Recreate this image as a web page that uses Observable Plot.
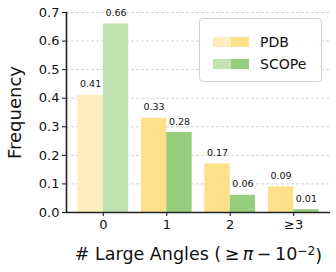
<!DOCTYPE html>
<html>
<head>
<meta charset="utf-8">
<script src="https://cdn.jsdelivr.net/npm/d3@7"></script>
<script src="https://cdn.jsdelivr.net/npm/@observablehq/plot@0.6"></script>
<style>
  html, body { margin: 0; padding: 0; background: #fff; }
  #wrap { position: relative; width: 336px; height: 272px; font-family: "DejaVu Sans", sans-serif; }
  #wrap svg g[aria-label*="axis"] text { font-size: 13px; }
  #legend { position: absolute; left: 199px; top: 18px; width: 121px; height: 62px; border: 1px solid #d0d0d0; border-radius: 4px; background: rgba(255,255,255,0.85); box-sizing: content-box; }
  .lg-row { position: absolute; left: 13px; display: flex; align-items: center; font-size: 14px; color: #111; }
  .sw { display: inline-block; width: 18px; height: 10px; }
</style>
</head>
<body>
<div id="wrap"></div>
<script>
const categories = ["0", "1", "2", "≥3"];
const seriesNames = ["PDB", "SCOPe"];
const pdbValues = [0.41, 0.33, 0.17, 0.09];
const scopeValues = [0.66, 0.28, 0.06, 0.01];
const yTicks = [0, 0.1, 0.2, 0.3, 0.4, 0.5, 0.6, 0.7];
const xLabel = "# Large Angles (≥π−10⁻²)";
const yLabel = "Frequency";

const colors = {
  PDB: {full: "#FEE08B", light: "#FEEDBE"},
  SCOPe: {full: "#96CE7D", light: "#C1E2B1"}
};

const barW = 0.4;
const xDomain = [-0.58, 3.58];

const data = categories.flatMap((c, i) => [
  {cat: c, i, series: "PDB", value: pdbValues[i], x1: i - barW, x2: i},
  {cat: c, i, series: "SCOPe", value: scopeValues[i], x1: i, x2: i + barW}
]);
const fillOf = d => d.i === 0 ? colors[d.series].light : colors[d.series].full;

const chart = Plot.plot({
  width: 336,
  height: 272,
  marginLeft: 66,
  marginRight: 6,
  marginTop: 12,
  marginBottom: 60,
  style: {fontFamily: "DejaVu Sans, sans-serif", color: "#111", background: "white"},
  x: {domain: xDomain, ticks: [0, 1, 2, 3], tickFormat: i => categories[i], tickSize: 4, tickPadding: 3, label: null},
  y: {domain: [0, 0.7], ticks: yTicks, tickFormat: d3.format(".1f"), tickSize: 4, tickPadding: 3, label: null},
  marks: [
    Plot.ruleY(yTicks.slice(1), {stroke: "#c8c8c8", strokeDasharray: "3,2", strokeWidth: 0.8}),
    Plot.rectY(data, {x1: "x1", x2: "x2", y1: 0, y2: "value", fill: fillOf}),
    Plot.text(data, {x: d => (d.x1 + d.x2) / 2, y: "value", text: d => d.value.toFixed(2), dy: -11, fontSize: 9.5, fill: "#111"}),
    Plot.ruleY([0], {stroke: "#222", strokeWidth: 1.6}),
    Plot.ruleX([xDomain[0]], {stroke: "#222", strokeWidth: 1.6}),
    Plot.text([yLabel], {frameAnchor: "left", textAnchor: "middle", lineAnchor: "middle", rotate: -90, dx: -51, fontSize: 18, fill: "#111"}),
    Plot.text([xLabel], {frameAnchor: "bottom", textAnchor: "middle", lineAnchor: "middle", dy: 42, fontSize: 17.5, fill: "#111"})
  ]
});

// render the math part of the x label with proper superscript / italic pi
chart.querySelectorAll("text").forEach(t => {
  if (t.textContent === xLabel) {
    t.innerHTML = '# Large Angles (\u2009≥\u2009<tspan font-style="italic">π</tspan>\u2009−\u200910<tspan dy="-0.45em" font-size="70%">−2</tspan><tspan dy="0.45em">)</tspan>';
  }
});

const wrap = document.getElementById("wrap");
wrap.appendChild(chart);

const legend = document.createElement("div");
legend.id = "legend";
seriesNames.forEach((s, k) => {
  const row = document.createElement("div");
  row.className = "lg-row";
  row.style.top = (k === 0 ? 15 : 37) + "px";
  row.innerHTML = `<span class="sw" style="background:${colors[s].light}"></span><span class="sw" style="background:${colors[s].full}"></span><span style="margin-left:11px">${s}</span>`;
  legend.appendChild(row);
});
wrap.appendChild(legend);
</script>
</body>
</html>
